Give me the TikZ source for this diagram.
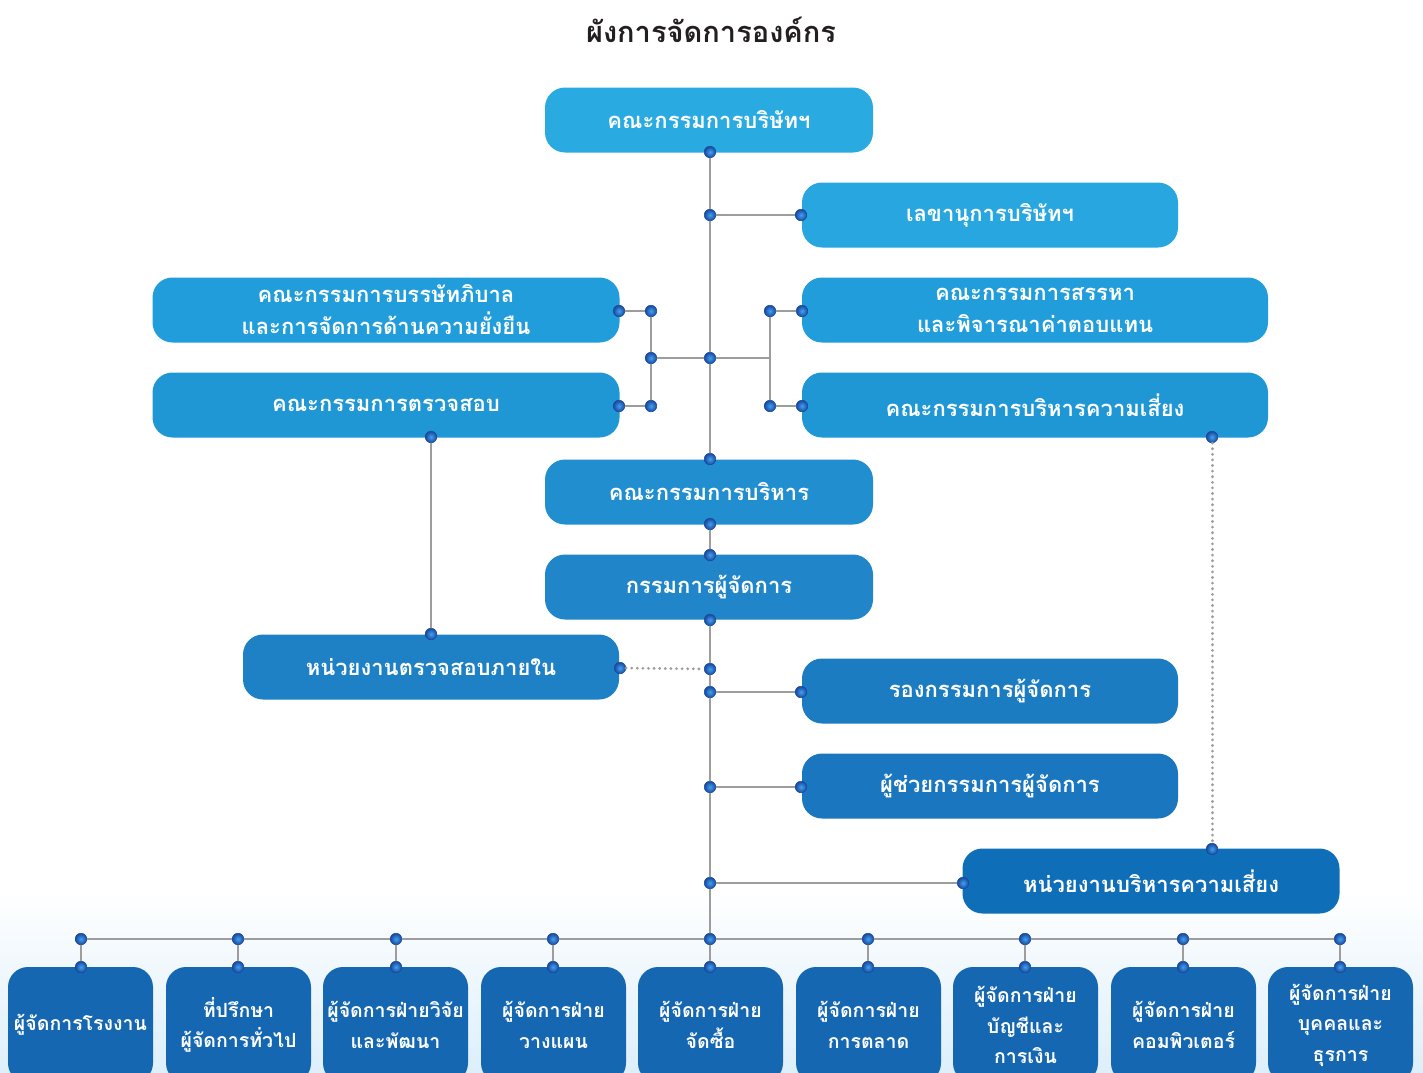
\documentclass[tikz,border=0pt]{standalone}
\usepackage{fontspec}
\newfontfamily\thaifont[Script=Thai]{Loma}
\definecolor{c1}{HTML}{29ABE2}
\definecolor{c2}{HTML}{27A6DF}
\definecolor{c3}{HTML}{209DDA}
\definecolor{c4}{HTML}{1F97D5}
\definecolor{c5}{HTML}{218ED0}
\definecolor{c6}{HTML}{2086C9}
\definecolor{c7}{HTML}{1E80C5}
\definecolor{c8}{HTML}{1C7CC2}
\definecolor{c9}{HTML}{1A76BE}
\definecolor{c10}{HTML}{0F6EB8}
\definecolor{c11}{HTML}{1567B2}
\definecolor{linegray}{HTML}{9D9D9D}
\definecolor{dotin}{HTML}{3FA2EC}
\definecolor{dotout}{HTML}{1A48A0}
\definecolor{titlec}{HTML}{231F20}
\definecolor{bgblue}{HTML}{DDEFFA}
\tikzset{
  box/.style={rectangle, rounded corners=20, fill=#1, text=white, inner sep=0pt,
    font=\thaifont\bfseries\fontsize{22}{32}\selectfont, align=center, minimum height=65},
  lowbox/.style={box=c11, minimum width=145, minimum height=116,
    font=\thaifont\bfseries\fontsize{19.5}{30.5}\selectfont},
  dot/.style={circle, inner sep=0pt, minimum size=11.5, draw=dotout, line width=0.6,
    inner color=dotin, outer color=dotout},
  conn/.style={draw=linegray, line width=1.8},
  dconn/.style={draw=linegray, line width=3, line cap=round, dash pattern=on 0.1 off 5.5},
}
\begin{document}
\begin{tikzpicture}[x=1pt, y=-1pt]
\useasboundingbox (0,0) rectangle (1423,1072);
\clip (0,0) rectangle (1423,1072);
\shade[top color=white, bottom color=bgblue] (0,890) rectangle (1423,1072);
\node[font=\thaifont\bfseries\fontsize{29}{34}\selectfont, text=titlec] (title) at (711,30) {ผังการจัดการองค์กร};
% boxes
\node[box=c1, minimum width=328] (board) at (709,120) {คณะกรรมการบริษัทฯ};
\node[box=c2, minimum width=376] (sec) at (990,215) {เลขานุการบริษัทฯ};
\node[box=c3, minimum width=467] (cg) at (386,310) {คณะกรรมการบรรษัทภิบาล\\และการจัดการด้านความยั่งยืน};
\node[box=c4, minimum width=467] (audit) at (386,405) {คณะกรรมการตรวจสอบ};
\node[box=c3, minimum width=466] (nom) at (1035,310) {คณะกรรมการสรรหา\\และพิจารณาค่าตอบแทน};
\node[box=c4, minimum width=466] (risk) at (1035,405) {คณะกรรมการบริหารความเสี่ยง};
\node[box=c5, minimum width=328] (exec) at (709,492) {คณะกรรมการบริหาร};
\node[box=c6, minimum width=328] (md) at (709,587) {กรรมการผู้จัดการ};
\node[box=c7, minimum width=376] (ia) at (431,667) {หน่วยงานตรวจสอบภายใน};
\node[box=c8, minimum width=376] (vp) at (990,691) {รองกรรมการผู้จัดการ};
\node[box=c9, minimum width=376] (avp) at (990,786) {ผู้ช่วยกรรมการผู้จัดการ};
\node[box=c10, minimum width=377] (ru) at (1151,881) {หน่วยงานบริหารความเสี่ยง};
\node[lowbox] (m1) at (80.5,1025) {ผู้จัดการโรงงาน};
\node[lowbox] (m2) at (238.5,1025) {ที่ปรึกษา\\ผู้จัดการทั่วไป};
\node[lowbox] (m3) at (395.5,1025) {ผู้จัดการฝ่ายวิจัย\\และพัฒนา};
\node[lowbox] (m4) at (553.5,1025) {ผู้จัดการฝ่าย\\วางแผน};
\node[lowbox] (m5) at (710.5,1025) {ผู้จัดการฝ่าย\\จัดซื้อ};
\node[lowbox] (m6) at (868.5,1025) {ผู้จัดการฝ่าย\\การตลาด};
\node[lowbox] (m7) at (1025.5,1025) {ผู้จัดการฝ่าย\\บัญชีและ\\การเงิน};
\node[lowbox] (m8) at (1183.5,1025) {ผู้จัดการฝ่าย\\คอมพิวเตอร์};
\node[lowbox] (m9) at (1340.5,1025) {ผู้จัดการฝ่าย\\บุคคลและ\\ธุรการ};
% dots
\foreach \n/\x/\y in {d1/710/152, t1/710/215, s1/801/215, t2/710/358, l0/651/358, l1/651/311, l2/651/406,
  cgR/619/311, auR/619/406, r1/770/311, r2/770/406, nomL/802/311, riskL/802/406,
  exT/710/459, exB/710/524, mdT/710/555, mdB/710/620, auB/431/437, iaT/431/634, iaR/620/668, t3/710/669,
  t4/710/692, vpL/801/692, t5/710/787, avpL/801/787, riskB/1212/437, ruT/1212/849, ruL/963/883, t6/710/883}
  {\node[dot] (\n) at (\x,\y) {};}
\foreach \i/\x in {1/81, 2/238, 3/396, 4/553, 5/710, 6/868, 7/1025, 8/1183, 9/1340}
  {\node[dot] (b\i) at (\x,939) {}; \node[dot] (c\i) at (\x,967) {};}
\coordinate (rc) at (770,358);
% connectors
\draw[conn] (d1) -- (t1) -- (t2) -- (exT);
\draw[conn] (t1) -- (s1);
\draw[conn] (t2) -- (l0);
\draw[conn] (l1) -- (l0) -- (l2);
\draw[conn] (cgR) -- (l1);
\draw[conn] (auR) -- (l2);
\draw[conn] (t2) -- (rc);
\draw[conn] (r1) -- (rc) -- (r2);
\draw[conn] (r1) -- (nomL);
\draw[conn] (r2) -- (riskL);
\draw[conn] (exB) -- (mdT);
\draw[conn] (mdB) -- (t3) -- (t4) -- (t5) -- (t6) -- (b5);
\draw[conn] (t4) -- (vpL);
\draw[conn] (t5) -- (avpL);
\draw[conn] (t6) -- (ruL);
\draw[conn] (auB) -- (iaT);
\draw[dconn] (iaR) -- (t3);
\draw[dconn] (riskB) -- (ruT);
\draw[conn] (b1) -- (b2) -- (b3) -- (b4) -- (b5) -- (b6) -- (b7) -- (b8) -- (b9);
\foreach \i in {1,...,9} {\draw[conn] (b\i) -- (c\i);}
\end{tikzpicture}
\end{document}
